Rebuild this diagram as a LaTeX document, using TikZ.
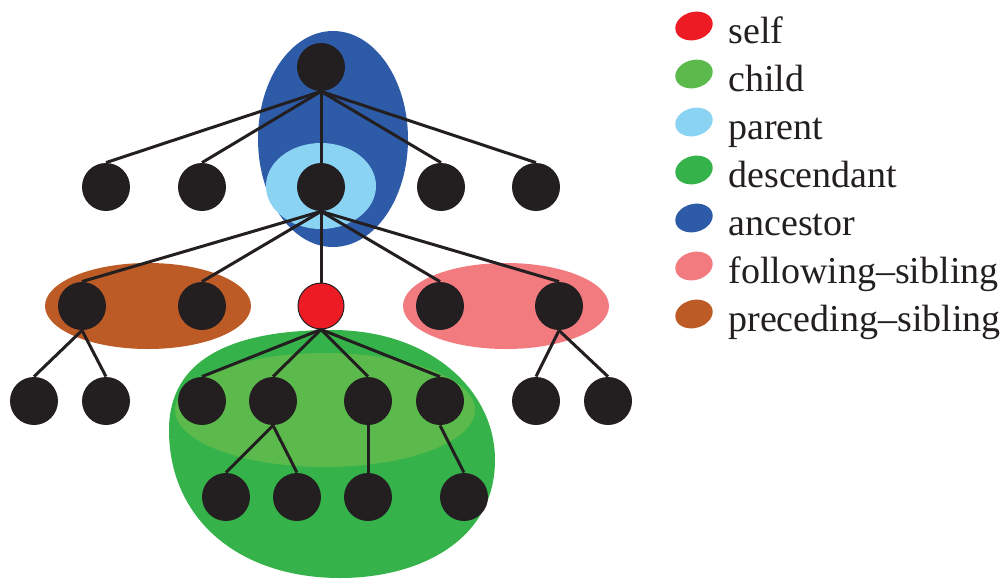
\documentclass[tikz,border=0pt]{standalone}
\usepackage{fontspec}
\setmainfont{Liberation Serif}
\usetikzlibrary{shapes.geometric}
\definecolor{nodeblack}{HTML}{231F20}
\definecolor{selfred}{HTML}{ED1C24}
\definecolor{childgreen}{HTML}{5BBA4B}
\definecolor{parentblue}{HTML}{8AD3F3}
\definecolor{descgreen}{HTML}{35B34A}
\definecolor{ancblue}{HTML}{2E5BA8}
\definecolor{follpink}{HTML}{F27B80}
\definecolor{precbrown}{HTML}{BD5B27}

\begin{document}
\begin{tikzpicture}[
  x=0.5pt, y=-0.5pt,
  tnode/.style={circle,fill=nodeblack,inner sep=0pt,minimum size=24pt},
  snode/.style={circle,fill=selfred,draw=nodeblack,line width=0.5pt,inner sep=0pt,minimum size=23pt},
  edge/.style={draw=nodeblack,line width=1.5pt},
  legblob/.style={ellipse,inner sep=0pt,minimum width=19pt,minimum height=14pt,rotate=15},
  legtext/.style={anchor=base west,inner sep=0pt,font=\fontsize{19}{23}\selectfont,text=nodeblack}
]
\useasboundingbox (0,0) rectangle (1008,579);

\fill[ancblue] (333,139) ellipse [x radius=75, y radius=108];
\fill[parentblue] (321,186) ellipse [x radius=55, y radius=43];
\fill[precbrown] (148,306) ellipse [x radius=103, y radius=43];
\fill[follpink] (506,306) ellipse [x radius=103, y radius=43];
\fill[descgreen] (332,330) .. controls (430,330) and (495,390) .. (495,460)
  .. controls (495,540) and (420,578) .. (340,578)
  .. controls (240,578) and (169,520) .. (169,430)
  .. controls (169,360) and (230,330) .. (332,330) -- cycle;
\fill[childgreen] (325,410) ellipse [x radius=150, y radius=57];

\node[tnode] (r) at (321,67) {};
\node[tnode] (a1) at (106,187) {};
\node[tnode] (a2) at (202,187) {};
\node[tnode] (p) at (321,187) {};
\node[tnode] (a4) at (441,187) {};
\node[tnode] (a5) at (536,187) {};
\node[tnode] (b1) at (82,306) {};
\node[tnode] (b2) at (202,306) {};
\node[snode] (s) at (321,306) {};
\node[tnode] (b4) at (440,306) {};
\node[tnode] (b5) at (559,306) {};
\node[tnode] (c1) at (34,401) {};
\node[tnode] (c2) at (106,401) {};
\node[tnode] (c3) at (202,401) {};
\node[tnode] (c4) at (273,401) {};
\node[tnode] (c5) at (368,401) {};
\node[tnode] (c6) at (440,401) {};
\node[tnode] (c7) at (536,401) {};
\node[tnode] (c8) at (608,401) {};
\node[tnode] (d1) at (226,497) {};
\node[tnode] (d2) at (297,497) {};
\node[tnode] (d3) at (368,497) {};
\node[tnode] (d4) at (464,497) {};

\draw[edge] (r.south) -- (a1.north);
\draw[edge] (r.south) -- (a2.north);
\draw[edge] (r.south) -- (p.north);
\draw[edge] (r.south) -- (a4.north);
\draw[edge] (r.south) -- (a5.north);
\draw[edge] (p.south) -- (b1.north);
\draw[edge] (p.south) -- (b2.north);
\draw[edge] (p.south) -- (s.north);
\draw[edge] (p.south) -- (b4.north);
\draw[edge] (p.south) -- (b5.north);
\draw[edge] (b1.south) -- (c1.north);
\draw[edge] (b1.south) -- (c2.north);
\draw[edge] (s.south) -- (c3.north);
\draw[edge] (s.south) -- (c4.north);
\draw[edge] (s.south) -- (c5.north);
\draw[edge] (s.south) -- (c6.north);
\draw[edge] (b5.south) -- (c7.north);
\draw[edge] (b5.south) -- (c8.north);
\draw[edge] (c4.south) -- (d1.north);
\draw[edge] (c4.south) -- (d2.north);
\draw[edge] (c5.south) -- (d3.north);
\draw[edge] (c6.south) -- (d4.north);

\foreach \col/\txt [count=\i] in {selfred/self, childgreen/child, parentblue/parent, descgreen/descendant, ancblue/ancestor, follpink/following--sibling, precbrown/preceding--sibling}{
  \node[legblob,fill=\col] (k\i) at (694,{-22+48*\i}) {};
  \node[legtext] (t\i) at (728,{-5+48*\i}) {\txt};
}
\end{tikzpicture}
\end{document}
